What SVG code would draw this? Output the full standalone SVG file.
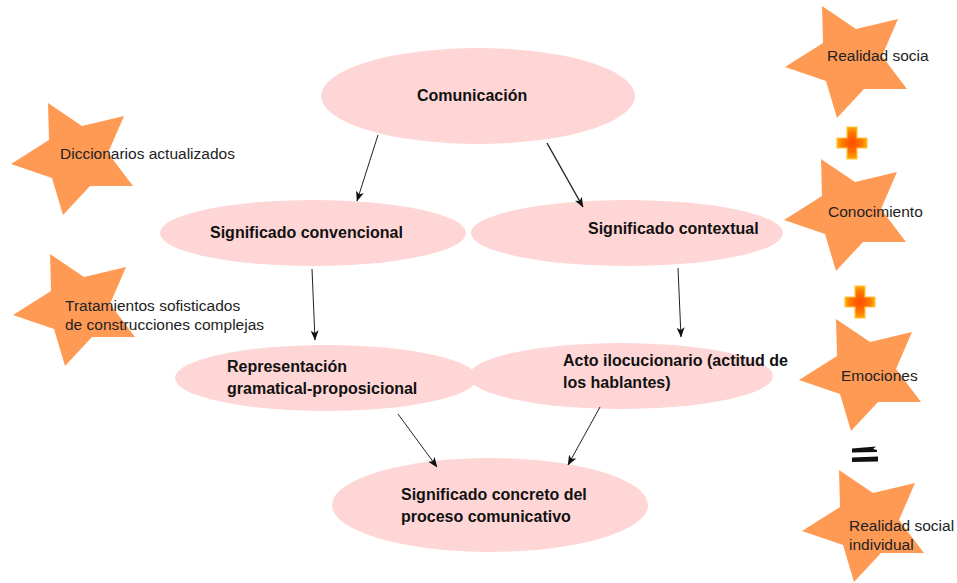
<svg xmlns="http://www.w3.org/2000/svg" width="957" height="583" viewBox="0 0 957 583">
  <style>
    .node ellipse { fill: #ffd6d6; }
    .node text { font-family: "Liberation Sans", Arial, sans-serif; font-size: 16px; font-weight: bold; fill: #111; }
    .note text { font-family: "Liberation Sans", Arial, sans-serif; font-size: 15.5px; fill: #222; }
    .star { fill: #ff9a55; }
    #connectors line { stroke: #222; stroke-width: 1; }
    #connectors line.thick { stroke-width: 1.4; }
  </style>
  <defs>
    <marker id="arrow" viewBox="0 0 10 8" refX="9.5" refY="4" markerWidth="10" markerHeight="8" markerUnits="userSpaceOnUse" orient="auto">
      <path d="M0,0 L10,4 L0,8 L2.5,4 z" fill="#111"/>
    </marker>
    <polygon id="starShape" points="-28,-54 6,-31 48,-41 32,-4 57,29 14,29 -13,58 -24,21 -65,7 -27,-17"/>
    <radialGradient id="plusGrad" cx="0.5" cy="0.5" r="0.55">
      <stop offset="0" stop-color="#ff4a00"/>
      <stop offset="0.6" stop-color="#ff7a00"/>
      <stop offset="1" stop-color="#ffb800"/>
    </radialGradient>
    <path id="plusShape" d="M-5,-16 H5 V-5 H15 V5 H5 V16 H-5 V5 H-15 V-5 H-5 z"/>
  </defs>

  <rect width="957" height="583" fill="#ffffff"/>

  <!-- stars with side notes -->
  <g id="note-diccionarios" class="note">
    <use href="#starShape" class="star" transform="translate(76,157)"/>
    <text x="60" y="159">Diccionarios actualizados</text>
  </g>
  <g id="note-tratamientos" class="note">
    <use href="#starShape" class="star" transform="translate(78,308)"/>
    <text x="65" y="311">Tratamientos sofisticados</text>
    <text x="65" y="330">de construcciones complejas</text>
  </g>
  <g id="note-realidad" class="note">
    <use href="#starShape" class="star" transform="translate(850,60)"/>
    <text x="827" y="61">Realidad socia</text>
  </g>
  <g id="note-conocimiento" class="note">
    <use href="#starShape" class="star" transform="translate(849,213)"/>
    <text x="828" y="217">Conocimiento</text>
  </g>
  <g id="note-emociones" class="note">
    <use href="#starShape" class="star" transform="translate(864,373)"/>
    <text x="841" y="381">Emociones</text>
  </g>
  <g id="note-individual" class="note">
    <use href="#starShape" class="star" transform="translate(867,524)"/>
    <text x="849" y="531">Realidad social</text>
    <text x="849" y="550">individual</text>
  </g>

  <!-- plus and equals signs -->
  <g id="plus-1">
    <use href="#plusShape" transform="translate(852,143)" fill="url(#plusGrad)" stroke="#ffc640" stroke-width="1.2"/>
  </g>
  <g id="plus-2">
    <use href="#plusShape" transform="translate(860,302)" fill="url(#plusGrad)" stroke="#ffc640" stroke-width="1.2"/>
  </g>
  <g id="equals">
    <path d="M852,448.5 L876,446.5 L873,449 L877,450 L877,452 L852,452.5 z" fill="#111"/>
    <path d="M852,457.5 L878,456.5 L878,461.5 L852,462 z" fill="#111"/>
  </g>

  <!-- concept nodes -->
  <g id="comunicacion" class="node">
    <ellipse cx="478" cy="96" rx="157" ry="48"/>
    <text x="417" y="101">Comunicación</text>
  </g>
  <g id="convencional" class="node">
    <ellipse cx="313" cy="233" rx="153" ry="33"/>
    <text x="210" y="238">Significado convencional</text>
  </g>
  <g id="contextual" class="node">
    <ellipse cx="627" cy="233" rx="156" ry="33"/>
    <text x="588" y="234">Significado contextual</text>
  </g>
  <g id="representacion" class="node">
    <ellipse cx="326" cy="378" rx="151" ry="33"/>
    <text x="227" y="372">Representación</text>
    <text x="227" y="394">gramatical-proposicional</text>
  </g>
  <g id="acto" class="node">
    <ellipse cx="621" cy="376" rx="152" ry="33"/>
    <text x="563" y="366">Acto ilocucionario (actitud de</text>
    <text x="563" y="388">los hablantes)</text>
  </g>
  <g id="concreto" class="node">
    <ellipse cx="490" cy="505" rx="158" ry="47"/>
    <text x="401" y="500">Significado concreto del</text>
    <text x="401" y="522">proceso comunicativo</text>
  </g>

  <!-- connectors -->
  <g id="connectors">
    <line x1="378" y1="135" x2="357" y2="201" marker-end="url(#arrow)"/>
    <line class="thick" x1="547" y1="143" x2="583" y2="207" marker-end="url(#arrow)"/>
    <line x1="312" y1="269" x2="315" y2="340" marker-end="url(#arrow)"/>
    <line x1="678" y1="268" x2="681" y2="337" marker-end="url(#arrow)"/>
    <line x1="398" y1="414" x2="437" y2="467" marker-end="url(#arrow)"/>
    <line x1="600" y1="407" x2="568" y2="465" marker-end="url(#arrow)"/>
  </g>
</svg>
